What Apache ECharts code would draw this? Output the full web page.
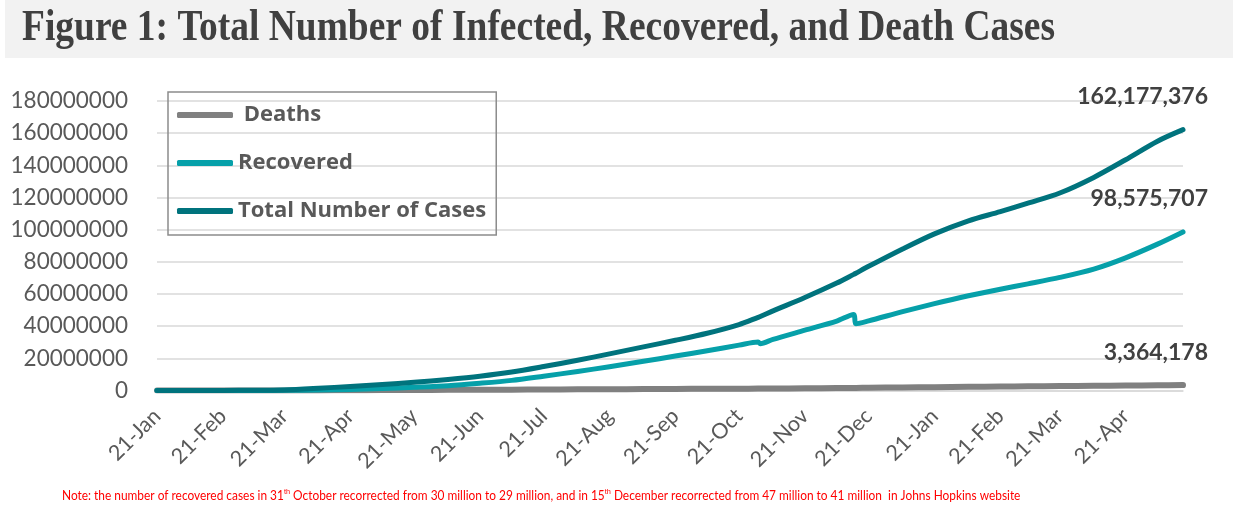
<!DOCTYPE html>
<html>
<head>
<meta charset="utf-8">
<script src="https://cdn.jsdelivr.net/npm/echarts@6/dist/echarts.min.js"></script>
<style>
html,body{margin:0;padding:0;background:#fff}
#chart{width:1241px;height:512px}
</style>
</head>
<body>
<div id="chart"></div>
<script>
var dates = ['2020-01-21','2020-02-21','2020-03-07','2020-03-21','2020-04-06','2020-04-21','2020-05-06','2020-05-21',
	'2020-06-06','2020-06-21','2020-07-06','2020-07-21','2020-08-06','2020-08-21','2020-09-06','2020-09-21',
	'2020-10-06','2020-10-21','2020-10-30','2020-10-31','2020-11-06','2020-11-21','2020-12-06','2020-12-14',
	'2020-12-15','2020-12-21','2021-01-06','2021-01-21','2021-02-06','2021-02-21','2021-03-06','2021-03-21',
	'2021-04-06','2021-04-21','2021-05-06','2021-05-18'];
var deaths = [0,2400,3500,13000,75000,177000,260000,330000,
	400000,470000,540000,620000,710000,800000,880000,970000,
	1050000,1130000,1180000,1190000,1250000,1370000,1530000,1620000,
	1630000,1700000,1890000,2080000,2300000,2460000,2600000,2730000,
	2900000,3080000,3270000,3364178];
var recovered = [0,20000,50000,100000,280000,680000,1200000,2000000,
	3000000,4500000,6300000,8900000,11800000,14800000,18200000,21400000,
	24700000,28200000,30200000,29100000,31800000,37500000,43200000,47300000,
	41500000,43300000,49000000,54000000,58900000,63000000,66300000,70300000,
	75500000,82500000,91000000,98575707];
var totalCases = [500,77000,100000,300000,1350000,2550000,3700000,5100000,
	6900000,8900000,11500000,14900000,18800000,22800000,27100000,31200000,
	35600000,41000000,45500000,46000000,49500000,57800000,66800000,72200000,
	72900000,77200000,88000000,97400000,105500000,111200000,116500000,122800000,
	132500000,143500000,155000000,162177376];
var tickDates = ['2020-01-21','2020-02-21','2020-03-21','2020-04-21','2020-05-21','2020-06-21','2020-07-21','2020-08-21',
	'2020-09-21','2020-10-21','2020-11-21','2020-12-21','2021-01-21','2021-02-21','2021-03-21','2021-04-21'];
var monthNames = ['Jan','Feb','Mar','Apr','May','Jun','Jul','Aug','Sep','Oct','Nov','Dec'];

var titleText = 'Figure 1: Total Number of Infected, Recovered, and Death Cases';
var noteParts = ['Note: the number of recovered cases in 31','th',' October recorrected from 30 million to 29 million, and in 15','th',
	' December recorrected from 47 million to 41 million  in Johns Hopkins website'];

// x axis is a plain value axis counted in days from the first date
var DAY = 86400000;
function toUtc(s){
	var p = s.split('-');
	return Date.UTC(+p[0], +p[1]-1, +p[2]);
}
var startUtc = toUtc(dates[0]);
function toDay(s){
	return Math.round((toUtc(s) - startUtc) / DAY);
}
function dayLabel(d){
	var dt = new Date(startUtc + d*DAY);
	return dt.getUTCDate() + '-' + monthNames[dt.getUTCMonth()];
}
function pairs(vals){
	var out = [];
	for(var i=0;i<vals.length;i++) out.push([toDay(dates[i]), vals[i]]);
	return out;
}
function commas(v){
	return String(v).replace(/\B(?=(\d{3})+(?!\d))/g, ',');
}
// squeeze text horizontally to the width it has in the figure
var measureCtx = document.createElement('canvas').getContext('2d');
function fitScale(text, font, width){
	measureCtx.font = font;
	return width / measureCtx.measureText(text).width;
}

var ticks = tickDates.map(toDay);
var lastIdx = dates.length - 1;
var lastDay = toDay(dates[lastIdx]);
var FONT = 'Lato, "Open Sans", sans-serif';

var titleScale = fitScale(titleText, 'bold 44px "Liberation Serif"', 1033);
var noteScale = fitScale(noteParts.join(''), '13px Lato', 968);

function endMark(vals){
	return {
		symbol:'circle', symbolSize:1,
		itemStyle:{color:'transparent'},
		label:{
			show:true, position:'inside', offset:[25,-33], align:'right',
			color:'#404040', fontFamily:FONT, fontWeight:'bold', fontSize:23,
			formatter:function(p){ return commas(p.value); }
		},
		data:[{coord:[lastDay, vals[lastIdx]], value:vals[lastIdx]}]
	};
}

var chart = echarts.init(document.getElementById('chart'), null, {renderer:'canvas'});
chart.setOption({
	animation:false,
	backgroundColor:'#fff',
	grid:{left:157, right:58, top:101, bottom:121.5, containLabel:false},
	legend:{
		orient:'vertical', left:168, top:92,
		padding:[10,10,11,9], itemGap:22,
		borderColor:'#8c8c8c', borderWidth:1.5,
		icon:'roundRect', itemWidth:56, itemHeight:6,
		textStyle:{color:'#595959', fontFamily:'"Open Sans", Lato, sans-serif', fontWeight:'bold', fontSize:22, lineHeight:26},
		formatter:function(name){ return name==='Deaths' ? ' Deaths' : name; },
		data:['Deaths','Recovered','Total Number of Cases']
	},
	xAxis:{
		type:'value',
		min:0, max:lastDay,
		axisLine:{show:true, lineStyle:{color:'#d9d9d9', width:1.5}},
		axisTick:{show:false},
		splitLine:{show:false},
		axisLabel:{
			customValues:ticks,
			rotate:45, margin:22,
			color:'#595959', fontFamily:FONT, fontSize:21.5,
			formatter:function(v){ return dayLabel(v); }
		}
	},
	yAxis:{
		type:'value', min:0, max:180000000, interval:20000000,
		axisLine:{show:false}, axisTick:{show:false},
		splitLine:{lineStyle:{color:'#d9d9d9', width:1.5}},
		axisLabel:{
			margin:29, color:'#595959', fontFamily:FONT, fontSize:22.5,
			formatter:function(v){ return String(v); }
		}
	},
	series:[
		{
			name:'Deaths', type:'line', color:'#808080', showSymbol:false, z:2,
			smooth:0.3,
			lineStyle:{width:6, cap:'round', join:'round'},
			data:pairs(deaths), markPoint:endMark(deaths)
		},
		{
			name:'Recovered', type:'line', color:'#06a0a9', showSymbol:false, z:3,
			smooth:0.3,
			lineStyle:{width:5, cap:'round', join:'round'},
			data:pairs(recovered), markPoint:endMark(recovered)
		},
		{
			name:'Total Number of Cases', type:'line', color:'#00737d', showSymbol:false, z:4,
			smooth:0.3,
			lineStyle:{width:5, cap:'round', join:'round'},
			data:pairs(totalCases), markPoint:endMark(totalCases)
		}
	],
	graphic:[
		{
			type:'rect', left:5, top:0, z:-1,
			shape:{width:1228, height:58},
			style:{fill:'#f2f2f2'}
		},
		{
			type:'text', x:22, y:29, scaleX:titleScale,
			style:{
				text:titleText, fill:'#404040',
				font:'bold 44px "Liberation Serif"',
				verticalAlign:'middle'
			}
		},
		{
			type:'text', x:62, y:496, scaleX:noteScale,
			style:{
				text:noteParts[0] + '{sup|th}' + noteParts[2] + '{sup|th}' + noteParts[4],
				fill:'#ff0000', fontFamily:'Lato', fontSize:13, lineHeight:16,
				verticalAlign:'middle',
				rich:{sup:{fontSize:8, lineHeight:8, verticalAlign:'top', fill:'#ff0000'}}
			}
		}
	]
});
</script>
</body>
</html>
